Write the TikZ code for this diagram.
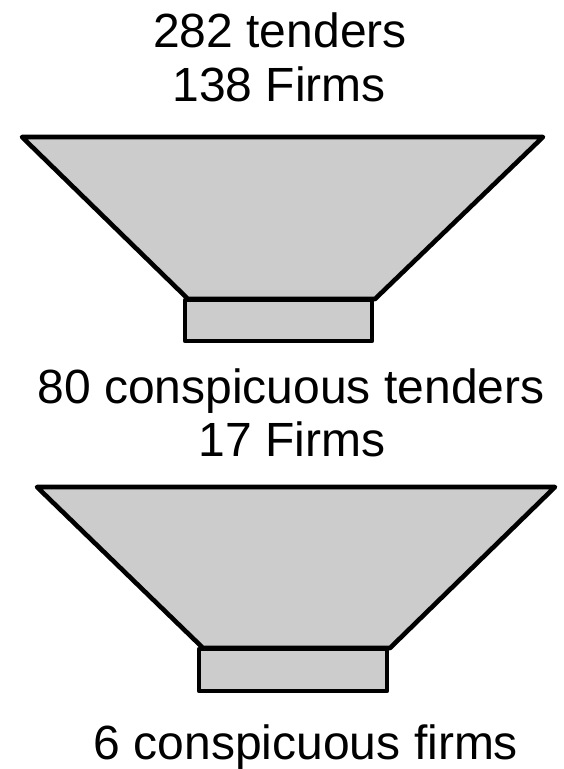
\documentclass[tikz,border=0pt]{standalone}
\usepackage{fontspec}
\setmainfont{Liberation Sans}
\definecolor{funnelgray}{RGB}{204,204,204}
\begin{document}
\begin{tikzpicture}[x=1pt,y=-1pt,
  funnelpart/.style={draw=black,fill=funnelgray,line width=4.6pt,line join=round,line cap=round},
  lbl/.style={anchor=base,inner sep=0pt,font=\fontsize{48}{48}\selectfont}]
\useasboundingbox (0,0) rectangle (563,769);
% texts
\node[lbl] (t1) at (280,47) {282 tenders};
\node[lbl] (t2) at (279,101) {138 Firms};
\node[lbl] (t3) at (291,403) {80 conspicuous tenders};
\node[lbl] (t4) at (292,456) {17 Firms};
\node[lbl] (t5) at (306,759) {6 conspicuous firms};
% funnel 1
\draw[funnelpart] (22,137) -- (543,137) -- (375,299) -- (188,299) -- cycle;
\draw[funnelpart] (185,300) rectangle (372,341);
% funnel 2
\draw[funnelpart] (37,487) -- (555,487) -- (390,648) -- (203,648) -- cycle;
\draw[funnelpart] (199,649) rectangle (387,691);
\end{tikzpicture}
\end{document}
